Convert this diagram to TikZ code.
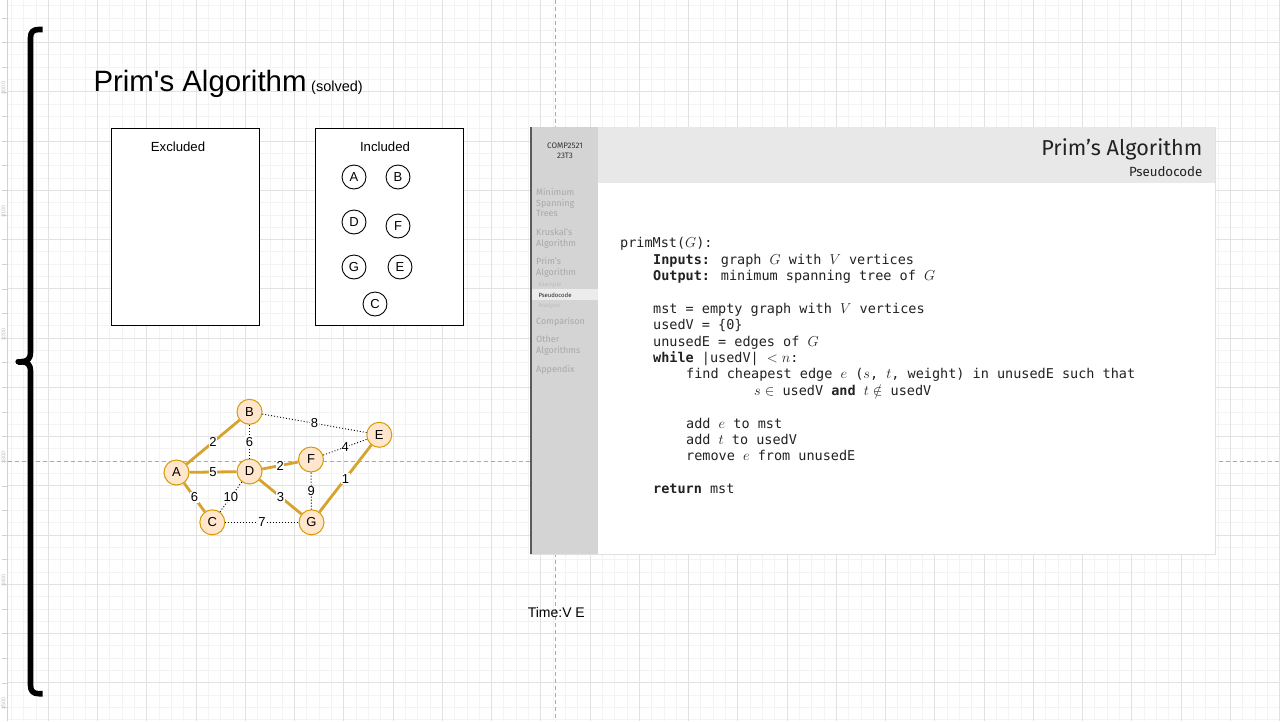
\documentclass[tikz,border=0pt]{standalone}
\usepackage{fontspec}
\setmainfont{Liberation Sans}[Ligatures=TeXOff]
\newfontfamily\slidefont{Fira Sans}
\newfontfamily\codefont{DejaVu Sans Mono}[Ligatures=TeXOff]
\usetikzlibrary{calc}

\definecolor{gridminor}{HTML}{F3F3F3}
\definecolor{gridmajor}{HTML}{E2E2E2}
\definecolor{rulerline}{HTML}{D2D2D2}
\definecolor{pagebreak}{HTML}{ABABAB}
\definecolor{nodefill}{HTML}{FFE6CC}
\definecolor{nodeline}{HTML}{D79B00}
\definecolor{treeedge}{HTML}{D6A32E}
\definecolor{sidebar}{HTML}{D4D4D4}
\definecolor{sidehi}{HTML}{ECECEC}
\definecolor{header}{HTML}{E8E8E8}
\definecolor{sidetext}{HTML}{A8A8A8}
\definecolor{sidetextlight}{HTML}{BCBCBC}
\definecolor{sideedge}{HTML}{5A5A5A}
\definecolor{slideink}{HTML}{222222}

\begin{document}
\begin{tikzpicture}[x=1pt,y=-1pt,
  vtx/.style={circle,draw=nodeline,fill=nodefill,line width=1pt,minimum size=25pt,
    inner sep=0pt,font=\fontsize{13}{13}\selectfont},
  setvtx/.style={circle,draw=black,line width=0.9pt,fill=white,minimum size=24pt,
    inner sep=0pt,font=\fontsize{13}{13}\selectfont},
  tree/.style={draw=treeedge,line width=2.8pt},
  other/.style={draw=black,line width=0.9pt,dash pattern=on 1pt off 2pt},
  wt/.style={fill=white,inner sep=0.6pt,font=\fontsize{13}{13}\selectfont},
  setbox/.style={draw=black,line width=1.1pt,fill=white,anchor=north west,
    minimum width=148pt,minimum height=197pt,inner sep=0pt},
  setlabel/.style={anchor=base,inner sep=0pt,font=\fontsize{13.2}{14}\selectfont},
  codeline/.style={anchor=mid west,inner sep=0pt,text=slideink,
    font=\codefont\fontsize{13.5}{14}\selectfont},
  sideitem/.style={anchor=mid west,inner sep=0pt,text=sidetext,
    font=\slidefont\fontsize{9}{9}\selectfont},
  subitem/.style={anchor=mid west,inner sep=0pt,text=sidetextlight,
    font=\slidefont\fontsize{6}{6}\selectfont},
  pagesplit/.style={draw=pagebreak,line width=0.8pt,dash pattern=on 4pt off 3pt},
]

% canvas
\fill[white] (0,0) rectangle (1280,721);
\useasboundingbox (0,0) rectangle (1280,721);

% editor grid
\foreach \k in {-3,...,100}
  \draw[gridminor,line width=0.8pt] ({48.3+12.3125*\k},0) -- ({48.3+12.3125*\k},721);
\foreach \k in {-7,...,51}
  \draw[gridminor,line width=0.8pt] (7.5,{91.8+12.3125*\k}) -- (1280,{91.8+12.3125*\k});
\foreach \k in {0,...,25}
  \draw[gridmajor,line width=0.9pt] ({48.3+49.25*\k},0) -- ({48.3+49.25*\k},721);
\foreach \k in {-1,...,12}
  \draw[gridmajor,line width=0.9pt] (7.5,{91.8+49.25*\k}) -- (1280,{91.8+49.25*\k});

% vertical ruler
\fill[white] (0,0) rectangle (7.5,721);
\draw[rulerline,line width=0.8pt] (7.5,0) -- (7.5,721);
\foreach \k in {-3,...,25}
  \draw[rulerline,line width=0.6pt] (2,{91.8+24.625*\k}) -- (7.5,{91.8+24.625*\k});
\foreach \v [count=\i from 0] in {3000,3100,3200,3300,3400,3500}
  \node[rotate=90,inner sep=0pt,text=black!25,font=\fontsize{5.5}{6}\selectfont]
    (ruler\i) at (3.6,{88+123.1*\i}) {\v};

% page break guides
\draw[pagesplit] (7.5,461) -- (1280,461);
\draw[pagesplit] (555,0) -- (555,721);

% curly brace
\draw[line width=5.6pt,line cap=butt,line join=round]
  (42.7,29.5) -- (39,29.5) .. controls (33,29.5) and (30.5,32) .. (30.5,38)
  -- (30.5,352) .. controls (30.5,359) and (27.5,361.7) .. (21,361.7);
\draw[line width=5.6pt,line cap=butt,line join=round]
  (42.7,693.7) -- (39,693.7) .. controls (33,693.7) and (30.5,691) .. (30.5,685)
  -- (30.5,371.4) .. controls (30.5,364.4) and (27.5,361.7) .. (21,361.7);
\fill (18.2,361.7) circle (2.8pt);
\fill (18.2,358.9) rectangle (22,364.5);

% heading
\node[anchor=base west,inner sep=0pt,font=\fontsize{29.4}{30}\selectfont]
  (title) at (93.3,91.7) {Prim's Algorithm};
\node[anchor=base west,inner sep=0pt,font=\fontsize{14.5}{15}\selectfont]
  (solved) at (311,91.7) {(solved)};

% vertex sets
\node[setbox] (excluded) at (111,128) {};
\node[setbox] (included) at (315,128) {};
\node[setlabel] (exlabel) at (178,151.3) {Excluded};
\node[setlabel] (inlabel) at (385,151.3) {Included};

\node[setvtx] (iA) at (354,177) {A};
\node[setvtx] (iB) at (398,177) {B};
\node[setvtx] (iD) at (354,222) {D};
\node[setvtx] (iF) at (398,226) {F};
\node[setvtx] (iG) at (354,267) {G};
\node[setvtx] (iE) at (400,267) {E};
\node[setvtx] (iC) at (375,304) {C};

% weighted graph
\node[vtx] (A) at (176.5,472.5) {A};
\node[vtx] (B) at (249.5,411.8) {B};
\node[vtx] (C) at (212.3,522.3) {C};
\node[vtx] (D) at (249.5,471.5) {D};
\node[vtx] (E) at (379.3,434.8) {E};
\node[vtx] (F) at (311,459.5) {F};
\node[vtx] (G) at (311.5,522.3) {G};

\draw[tree]  (A) -- node[wt] {2} (B);
\draw[other] (B) -- node[wt] {6} (D);
\draw[other] (B) -- node[wt] {8} (E);
\draw[tree]  (A) -- node[wt] {5} (D);
\draw[tree]  (D) -- node[wt] {2} (F);
\draw[other] (F) -- node[wt] {4} (E);
\draw[tree]  (A) -- node[wt] {6} (C);
\draw[other] (D) -- node[wt] {10} (C);
\draw[tree]  (D) -- node[wt] {3} (G);
\draw[other] (F) -- node[wt] {9} (G);
\draw[tree]  (E) -- node[wt] {1} (G);
\draw[other] (C) -- node[wt] {7} (G);

% lecture slide
\node[draw=black!12,line width=0.6pt,fill=white,anchor=north west,inner sep=0pt,
  minimum width=685pt,minimum height=427pt] (slide) at (530,127) {};
\fill[header] (598,127) rectangle (1215,183);
\fill[sidebar] (530,127) rectangle (598.3,554);
\fill[sidehi] (530,289.3) rectangle (598.3,299.5);
\fill[sideedge] (530,127) rectangle (532,554);

\node[inner sep=0pt,text=black!80,font=\slidefont\fontsize{8}{8}\selectfont]
  (course) at (565,145.3) {COMP2521};
\node[inner sep=0pt,text=black!80,font=\slidefont\fontsize{8}{8}\selectfont]
  (term) at (565,155.6) {23T3};

\node[sideitem] (s1) at (536,192.7) {Minimum};
\node[sideitem] (s2) at (536,203.7) {Spanning};
\node[sideitem] (s3) at (536,214.3) {Trees};
\node[sideitem] (s4) at (536,233) {Kruskal’s};
\node[sideitem] (s5) at (536,243.7) {Algorithm};
\node[sideitem] (s6) at (536,262) {Prim’s};
\node[sideitem] (s7) at (536,272.7) {Algorithm};
\node[subitem] (s8) at (538.3,284) {Example};
\node[subitem,text=slideink] (s9) at (538.3,294.7) {Pseudocode};
\node[subitem] (s10) at (538.3,305.3) {Analysis};
\node[sideitem] (s11) at (536,322) {Comparison};
\node[sideitem] (s12) at (536,340.3) {Other};
\node[sideitem] (s13) at (536,351) {Algorithms};
\node[sideitem] (s14) at (536,370.3) {Appendix};

\node[anchor=base east,inner sep=0pt,text=slideink,font=\slidefont\fontsize{21.6}{22}\selectfont]
  (slidetitle) at (1202.5,155.6) {Prim’s Algorithm};
\node[anchor=base east,inner sep=0pt,text=slideink,font=\slidefont\fontsize{13.3}{14}\selectfont]
  (slidesub) at (1202.5,176.6) {Pseudocode};

% pseudocode listing
\node[codeline] (c0)  at (620,245) {primMst($G$):};
\node[codeline] (c1)  at (653,261.4) {{\bfseries Inputs:} graph $G$ with $V$ vertices};
\node[codeline] (c2)  at (653,277.8) {{\bfseries Output:} minimum spanning tree of $G$};
\node[codeline] (c3)  at (653,310.6) {mst = empty graph with $V$ vertices};
\node[codeline] (c4)  at (653,327) {usedV = \{0\}};
\node[codeline] (c5)  at (653,343.4) {unusedE = edges of $G$};
\node[codeline] (c6)  at (653,359.8) {{\bfseries while} |usedV| $<n$:};
\node[codeline] (c7)  at (686,376.2) {find cheapest edge $e$ ($s$, $t$, weight) in unusedE such that};
\node[codeline] (c8)  at (754,392.6) {$s\in$ usedV {\bfseries and} $t\notin$ usedV};
\node[codeline] (c9)  at (686,425.4) {add $e$ to mst};
\node[codeline] (c10) at (686,441.8) {add $t$ to usedV};
\node[codeline] (c11) at (686,458.2) {remove $e$ from unusedE};
\node[codeline] (c12) at (653,491) {{\bfseries return} mst};

% complexity note
\node[inner sep=0pt,font=\fontsize{14}{14}\selectfont] (time) at (556.3,612) {Time:V E};

\end{tikzpicture}
\end{document}
